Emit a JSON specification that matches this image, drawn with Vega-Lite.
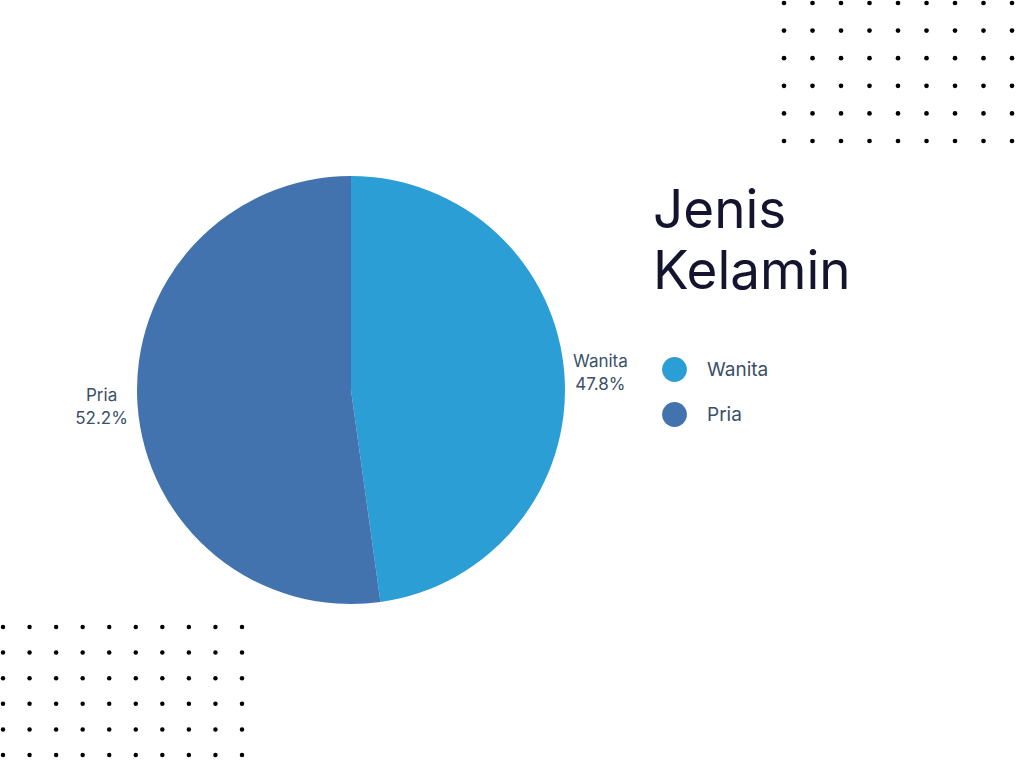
{
  "$schema": "https://vega.github.io/schema/vega-lite/v6.json",
  "width": 1024,
  "height": 768,
  "autosize": {"type": "fit", "contains": "padding"},
  "padding": 0,
  "background": "white",
  "datasets": {
    "gender": [
      {"Jenis": "Wanita", "pct": 47.8},
      {"Jenis": "Pria", "pct": 52.2}
    ],
    "dotsTop": [
      {"r": 0, "c": [0, 1, 2, 3, 4, 5, 6, 7, 8]},
      {"r": 1, "c": [0, 1, 2, 3, 4, 5, 6, 7, 8]},
      {"r": 2, "c": [0, 1, 2, 3, 4, 5, 6, 7, 8]},
      {"r": 3, "c": [0, 1, 2, 3, 4, 5, 6, 7, 8]},
      {"r": 4, "c": [0, 1, 2, 3, 4, 5, 6, 7, 8]},
      {"r": 5, "c": [0, 1, 2, 3, 4, 5, 6, 7, 8]}
    ],
    "dotsBottom": [
      {"r": 0, "c": [0, 1, 2, 3, 4, 5, 6, 7, 8, 9]},
      {"r": 1, "c": [0, 1, 2, 3, 4, 5, 6, 7, 8, 9]},
      {"r": 2, "c": [0, 1, 2, 3, 4, 5, 6, 7, 8, 9]},
      {"r": 3, "c": [0, 1, 2, 3, 4, 5, 6, 7, 8, 9]},
      {"r": 4, "c": [0, 1, 2, 3, 4, 5, 6, 7, 8, 9]},
      {"r": 5, "c": [0, 1, 2, 3, 4, 5, 6, 7, 8, 9]}
    ]
  },
  "layer": [
    {
      "data": {"name": "dotsTop"},
      "transform": [{"flatten": ["c"]}],
      "mark": {"type": "circle", "color": "black", "size": 22, "opacity": 1},
      "encoding": {
        "x": {"field": "c", "type": "quantitative", "axis": null,
              "scale": {"domain": [0, 8], "range": [783, 1011], "nice": false, "zero": false}},
        "y": {"field": "r", "type": "quantitative", "axis": null,
              "scale": {"domain": [0, 5], "range": [3, 141], "nice": false, "zero": false}}
      }
    },
    {
      "data": {"name": "dotsBottom"},
      "transform": [{"flatten": ["c"]}],
      "mark": {"type": "circle", "color": "black", "size": 20, "opacity": 1},
      "encoding": {
        "x": {"field": "c", "type": "quantitative", "axis": null,
              "scale": {"domain": [0, 9], "range": [2, 241], "nice": false, "zero": false}},
        "y": {"field": "r", "type": "quantitative", "axis": null,
              "scale": {"domain": [0, 5], "range": [627, 755], "nice": false, "zero": false}}
      }
    },
    {
      "data": {"name": "gender"},
      "mark": {"type": "arc", "x": 350, "y": 390, "outerRadius": 214},
      "encoding": {
        "theta": {"field": "pct", "type": "quantitative", "stack": true},
        "order": {"field": "pct", "type": "quantitative"},
        "color": {
          "field": "Jenis",
          "type": "nominal",
          "scale": {"domain": ["Wanita", "Pria"], "range": ["#2a9ed5", "#4373ae"]},
          "legend": {
            "title": ["Jenis", "Kelamin"],
            "orient": "none",
            "legendX": 652,
            "legendY": 186,
            "padding": 0,
            "titleFont": "Inter",
            "titleFontSize": 53,
            "titleFontWeight": "normal",
            "titleLineHeight": 61,
            "titleLimit": 500,
            "titleColor": "#14142e",
            "titlePadding": 57,
            "symbolType": "circle",
            "symbolSize": 615,
            "symbolOffset": 9,
            "symbolStrokeWidth": 0,
            "symbolOpacity": 1,
            "labelFont": "Inter",
            "labelFontSize": 19,
            "labelColor": "#3a5068",
            "labelOffset": 20,
            "rowPadding": 20
          }
        }
      }
    },
    {
      "data": {"name": "gender"},
      "transform": [
        {"calculate": "[datum.Jenis, format(datum.pct, '.1f') + '%']", "as": "label"}
      ],
      "mark": {"type": "text", "x": 350, "y": 390, "radius": 250, "dy": -11, "font": "Inter",
               "fontSize": 17, "color": "#3a5068", "align": "center", "baseline": "middle", "lineHeight": 23},
      "encoding": {
        "theta": {"field": "pct", "type": "quantitative", "stack": true},
        "order": {"field": "pct", "type": "quantitative"},
        "detail": {"field": "Jenis", "type": "nominal"},
        "text": {"field": "label"}
      }
    }
  ],
  "resolve": {"scale": {"x": "independent", "y": "independent"}},
  "config": {"view": {"stroke": null}}
}
